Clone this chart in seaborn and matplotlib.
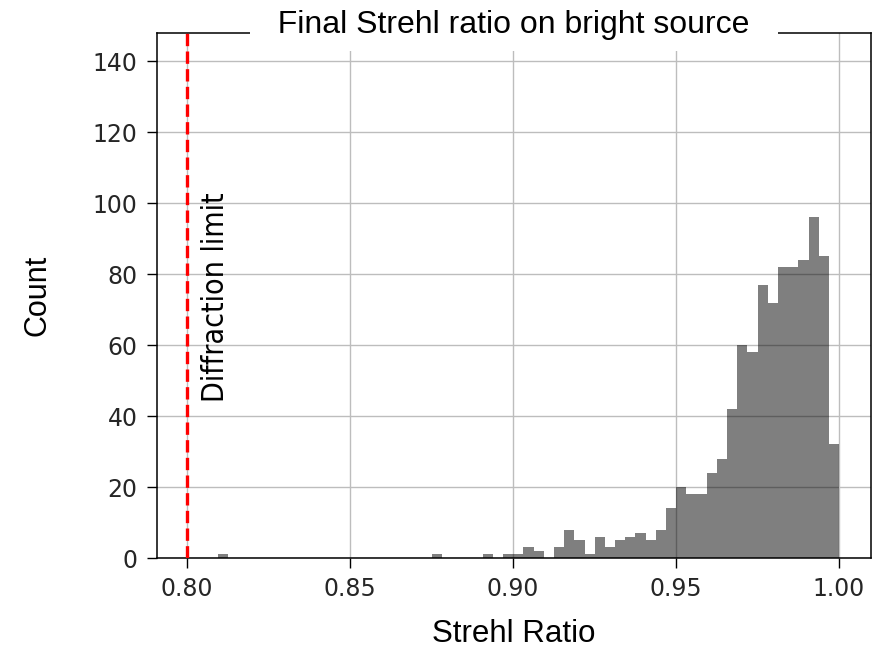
import numpy as np
import pandas as pd
import matplotlib
matplotlib.use("Agg")
import matplotlib.pyplot as plt
import seaborn as sns
from matplotlib import font_manager

# ---- data ----
bin_lo = 0.8095
bin_hi = 1.0
n_bins = 61
counts = [1] + [0] * 20 + [1, 0, 0, 0, 0, 1, 0, 1, 1, 3, 2, 0, 3, 8, 5, 1, 6, 3, 5, 6,
                           7, 5, 8, 14, 20, 18, 18, 24, 28, 42, 60, 58, 77, 72, 82, 82,
                           84, 96, 85, 32]
diffraction_limit = 0.80
x_ticks = [0.80, 0.85, 0.90, 0.95, 1.00]
y_ticks = [0, 20, 40, 60, 80, 100, 120, 140]
title = "Final Strehl ratio on bright source"
xlabel = "Strehl Ratio"
ylabel = "Count"
annot = "Diffraction limit"

edges = np.linspace(bin_lo, bin_hi, n_bins + 1)
centers = (edges[:-1] + edges[1:]) / 2
df = pd.DataFrame({"strehl": centers, "count": np.asarray(counts, dtype=float)})

names = {f.name for f in font_manager.fontManager.ttflist}
sans = "Liberation Sans" if "Liberation Sans" in names else "DejaVu Sans"

# pick the narrowest installed regular sans face for the annotation
rank = {"ultra-condensed": 0, "extra-condensed": 1, "condensed": 2,
        "semi-condensed": 3}
best = None
for f in font_manager.fontManager.ttflist:
    if f.style != "normal" or "CJK" in f.name or "Mono" in f.name:
        continue
    if f.weight not in ("normal", "regular", 400, "book"):
        continue
    r = rank.get(str(f.stretch), None)
    if r is None:
        if "Narrow" in f.name or "Condensed" in f.name or "Condensed" in f.fname:
            r = 2
        else:
            continue
    if best is None or r < best[0]:
        best = (r, f.fname)
if best is not None:
    narrow_fp = font_manager.FontProperties(fname=best[1])
else:
    narrow_fp = font_manager.FontProperties(family="DejaVu Sans")

fig = plt.figure(figsize=(8.72, 6.48), dpi=100)
ax = fig.add_axes([157 / 872, 1 - 558 / 648, (871 - 157) / 872, (558 - 33) / 648])

ax.set_axisbelow(True)
ax.grid(True, color="#bdbdbd", lw=1.0)

sns.histplot(data=df, x="strehl", weights="count", bins=list(edges), element="step",
             fill=True, color="black", alpha=0.5, linewidth=0, ax=ax)

ax.axvline(diffraction_limit, color="red", ls="--", lw=2.4, zorder=3)

ax.set_xlim(0.7908, 1.0098)
ax.set_ylim(0, 148)
ax.set_xticks(x_ticks)
ax.set_yticks(y_ticks)
ax.tick_params(labelsize=17, length=7, width=1.0, pad=7, labelcolor="#262626")
for s in ax.spines.values():
    s.set_linewidth(1.1)
    s.set_color("black")

ax.set_xlabel(xlabel, fontsize=22.5, family=sans, labelpad=13)
ax.set_ylabel(ylabel, fontsize=22, family=sans, labelpad=29)
ax.set_title("  " + title + "  ", fontsize=23, family=sans, y=1.0, pad=-0.3,
             bbox=dict(facecolor="white", edgecolor="none", pad=7.5), zorder=5)

t = ax.text(0.8086, 44, annot, rotation=90, ha="center", va="bottom",
            fontproperties=narrow_fp, fontsize=29, color="black")
# fit the annotation length to the reference (~210 px)
fig.canvas.draw()
ext = t.get_window_extent()
t.set_fontsize(29 * 210 / ext.height)

fig.savefig("out.png", dpi=100)
